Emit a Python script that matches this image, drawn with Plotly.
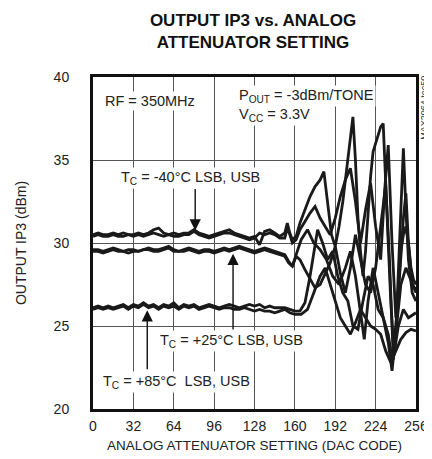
import plotly.graph_objects as go

# ---------------- data ----------------
FLAT_STEP = 4  # DAC code spacing of the flat-region samples (0..148)

m40_lsb_flat = [30.5,30.6,30.5,30.5,30.6,30.5,30.6,30.5,30.5,30.6,30.5,30.6,30.8,30.9,30.6,30.5,30.6,30.5,30.6,
                30.6,30.8,30.6,30.5,30.4,30.5,30.6,30.7,30.8,30.6,30.5,30.4,30.3,30.4,29.9,30.7,30.8,30.6,30.4]
m40_usb_flat = [30.4,30.5,30.4,30.4,30.5,30.4,30.4,30.5,30.4,30.5,30.4,30.5,30.6,30.5,30.4,30.5,30.4,30.4,30.5,
                30.5,30.7,30.5,30.4,30.3,30.4,30.5,30.6,30.6,30.5,30.4,30.3,30.2,30.3,30.6,30.5,30.6,30.5,30.3]
p25_lsb_flat = [29.6,29.6,29.5,29.6,29.7,29.6,29.5,29.6,29.6,29.5,29.6,29.7,29.6,29.6,29.7,29.8,29.6,29.5,29.6,
                29.7,29.6,29.5,29.6,29.6,29.5,29.6,29.7,29.6,29.7,29.8,29.7,29.6,29.5,29.6,29.7,29.6,29.5,29.4]
p25_usb_flat = [29.5,29.5,29.4,29.5,29.6,29.5,29.5,29.4,29.5,29.5,29.6,29.6,29.5,29.5,29.6,29.7,29.5,29.5,29.5,
                29.6,29.5,29.4,29.5,29.5,29.4,29.5,29.6,29.5,29.6,29.7,29.6,29.5,29.4,29.5,29.6,29.5,29.4,29.3]
p85_lsb_flat = [26.1,26.2,26.1,26.2,26.1,26.2,26.3,26.1,26.3,26.2,26.4,26.2,26.3,26.1,26.3,26.2,26.4,26.1,26.3,
                26.2,26.3,26.1,26.2,26.3,26.2,26.1,26.2,26.3,26.2,26.1,26.2,26.3,26.2,26.3,26.1,26.2,26.1,26.1]
p85_usb_flat = [26.0,26.1,26.0,26.1,26.0,26.1,26.2,26.0,26.2,26.1,26.3,26.1,26.2,26.0,26.2,26.1,26.2,26.0,26.2,
                26.1,26.2,26.0,26.1,26.2,26.1,26.0,26.1,26.1,26.0,26.0,26.1,26.0,25.9,26.0,25.9,25.9,25.8,25.9]

m40_lsb_x = [152,154,156,158,161,164,168,172,176,180,183,186,189,192,195,198,201,204,206,208,210,212,
             214,216,218,220,222,224,226,228,230,232,234,236,238,240,242,244,246,248,250,252,254,256]
m40_lsb_y = [30.6,31.2,30.6,30.2,30.4,31.2,32.0,32.8,33.4,33.8,34.3,32.5,30.5,29.8,31.0,32.5,34.5,36.2,37.6,35.0,31.5,29.5,
             28.0,29.5,32.0,34.0,35.5,36.0,36.5,37.0,37.2,34.0,30.0,26.5,24.0,25.0,27.5,29.5,30.5,31.0,30.0,28.5,27.8,27.5]

m40_usb_x = [152,154,156,158,161,164,168,172,176,180,184,188,192,196,200,204,
             208,212,216,220,224,228,231,234,237,240,243,246,248,250,253,256]
m40_usb_y = [30.3,30.9,30.5,30.0,30.2,30.8,31.3,31.8,32.2,31.5,31.0,30.5,31.5,32.8,33.8,34.5,
             32.5,30.0,32.0,33.6,31.0,29.0,33.0,35.9,30.0,25.5,28.0,31.5,33.0,30.0,27.5,27.2]

p25_lsb_x = [152,155,158,161,164,168,172,176,180,184,188,192,196,200,204,208,
             212,216,220,224,228,232,235,238,240,242,244,246,248,250,253,256]
p25_lsb_y = [29.3,28.9,28.6,29.2,29.0,28.4,27.8,27.3,27.5,28.2,28.8,29.8,28.2,27.0,28.5,30.5,
             29.0,27.5,27.0,28.5,31.0,33.5,29.0,23.0,24.5,28.0,32.0,35.7,32.0,29.0,27.0,26.5]

p25_usb_x = [152,155,158,161,165,170,175,180,185,190,195,200,204,208,
             212,215,218,222,226,230,234,237,240,244,248,252,256]
p25_usb_y = [29.2,28.8,28.6,29.3,30.2,30.8,30.0,29.6,29.0,28.0,27.5,28.5,29.5,28.0,
             26.0,24.2,26.5,28.5,27.0,25.5,24.0,22.3,24.5,27.5,28.5,27.8,27.0]

p85_lsb_x = [152,156,160,164,168,172,175,178,182,186,190,194,198,202,
             206,210,214,218,222,226,230,234,236,238,242,246,250,256]
p85_lsb_y = [26.1,26.0,25.9,25.9,26.4,28.0,29.5,30.8,30.0,29.0,29.5,28.0,27.0,26.5,
             25.0,24.8,26.5,28.0,27.5,26.0,25.5,24.5,23.5,23.0,25.0,26.0,25.5,25.8]

p85_usb_x = [152,156,160,165,170,175,180,184,188,192,196,200,204,
             208,212,216,220,224,228,232,236,240,244,248,252,256]
p85_usb_y = [26.0,25.8,25.7,25.7,26.0,27.0,28.0,28.5,27.5,26.5,25.5,25.0,24.5,
             25.2,26.0,25.5,25.0,24.8,24.5,23.5,22.8,23.5,24.2,24.6,24.8,24.7]

x_ticks = [0, 32, 64, 96, 128, 160, 192, 224, 256]
y_ticks = [20, 25, 30, 35, 40]

series = [
    (m40_lsb_flat, m40_lsb_x, m40_lsb_y),
    (m40_usb_flat, m40_usb_x, m40_usb_y),
    (p25_lsb_flat, p25_lsb_x, p25_lsb_y),
    (p25_usb_flat, p25_usb_x, p25_usb_y),
    (p85_lsb_flat, p85_lsb_x, p85_lsb_y),
    (p85_usb_flat, p85_usb_x, p85_usb_y),
]

FONT = "Liberation Sans, Arial, sans-serif"

fig = go.Figure()
for flat, cx, cy in series:
    xs = [FLAT_STEP * i for i in range(len(flat))] + cx
    ys = flat + cy
    fig.add_trace(go.Scatter(x=xs, y=ys, mode="lines",
                             line=dict(color="#1a1a1a", width=2.8),
                             showlegend=False, hoverinfo="skip"))

annos = []
def txt(x, y, s, xanchor="center", size=14.5):
    annos.append(dict(x=x, y=y, xref="x", yref="y", text=s, showarrow=False,
                      xanchor=xanchor, yanchor="middle", bgcolor="white", borderpad=1,
                      font=dict(family=FONT, size=size, color="#222")))

def arrow(x, y_tip, y_tail):
    annos.append(dict(x=x, y=y_tip, ax=x, ay=y_tail, xref="x", yref="y", axref="x", ayref="y",
                      text="", showarrow=True, arrowhead=2, arrowsize=1.6, arrowwidth=1.4,
                      arrowcolor="#111", font=dict(size=10)))

txt(45, 38.55, "RF = 350MHz")
txt(114, 38.85, "P<sub>OUT</sub> = -3dBm/TONE", xanchor="left")
txt(114, 37.7, "V<sub>CC</sub> = 3.3V", xanchor="left")
txt(77, 33.9, "T<sub>C</sub> = -40°C LSB, USB")
txt(110, 24.1, "T<sub>C</sub> = +25°C LSB, USB")
txt(66, 21.6, "T<sub>C</sub> = +85°C  LSB, USB")
arrow(81, 30.75, 33.35)
arrow(111, 29.35, 24.7)
arrow(43, 25.95, 22.3)

annos.append(dict(x=(423 - 81) / 334, y=(401 - 100) / 332, xref="paper", yref="paper",
                  text="MAX2064 toc50", showarrow=False, textangle=-90,
                  xanchor="center", yanchor="middle",
                  font=dict(family=FONT, size=9, color="#333")))

fig.update_layout(
    width=432, height=459,
    margin=dict(l=81, r=17, t=69, b=58),
    paper_bgcolor="white", plot_bgcolor="white",
    title=dict(text="<b>OUTPUT IP3 vs. ANALOG<br>ATTENUATOR SETTING</b>",
               x=245 / 432, xanchor="center", y=1 - 18 / 459, yanchor="middle",
               font=dict(family=FONT, size=17, color="#111")),
    annotations=annos,
    xaxis=dict(range=[0, 256], tickvals=x_ticks, ticktext=[str(v) for v in x_ticks],
               showgrid=True, gridcolor="#555", gridwidth=1,
               showline=True, linecolor="#111", linewidth=3, mirror=True,
               zeroline=False, ticks="", ticklen=0, ticklabelstandoff=2,
               tickfont=dict(family=FONT, size=14, color="#222"),
               title=dict(text="ANALOG ATTENUATOR SETTING (DAC CODE)", standoff=8,
                          font=dict(family=FONT, size=13.5, color="#222"))),
    yaxis=dict(range=[20, 40], tickvals=y_ticks, ticktext=[str(v) for v in y_ticks],
               showgrid=True, gridcolor="#555", gridwidth=1,
               showline=True, linecolor="#111", linewidth=3, mirror=True,
               zeroline=False, ticks="", ticklen=0, ticklabelstandoff=18,
               tickfont=dict(family=FONT, size=14, color="#222"),
               title=dict(text="OUTPUT IP3 (dBm)", standoff=24,
                          font=dict(family=FONT, size=14, color="#222"))),
)

fig.write_html("out.html")
